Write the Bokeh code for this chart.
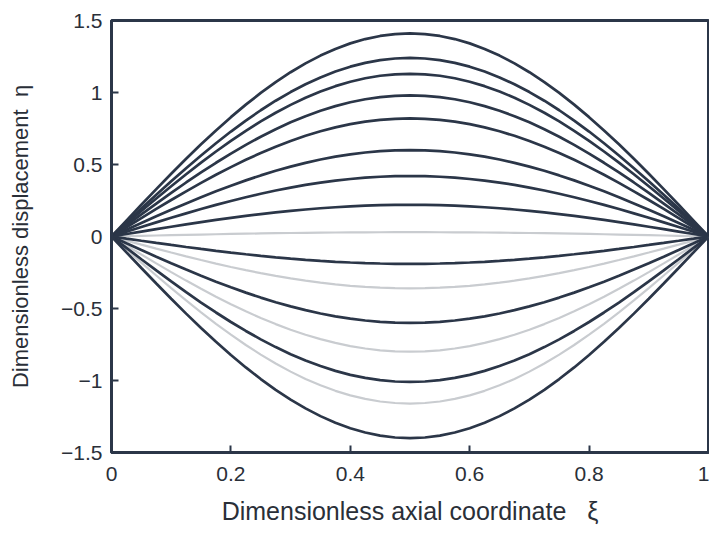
from bokeh.plotting import figure
from bokeh.models import FixedTicker, Range1d
from bokeh.embed import file_html
from bokeh.resources import INLINE

# Axial coordinate samples and normalised mode-shape
XI = [0.000, 0.025, 0.050, 0.075, 0.100, 0.125, 0.150, 0.175, 0.200, 0.225,
      0.250, 0.275, 0.300, 0.325, 0.350, 0.375, 0.400, 0.425, 0.450, 0.475,
      0.500, 0.525, 0.550, 0.575, 0.600, 0.625, 0.650, 0.675, 0.700, 0.725,
      0.750, 0.775, 0.800, 0.825, 0.850, 0.875, 0.900, 0.925, 0.950, 0.975, 1.000]
SHAPE = [0.0000, 0.0785, 0.1564, 0.2334, 0.3090, 0.3827, 0.4540, 0.5225, 0.5878, 0.6494,
         0.7071, 0.7604, 0.8090, 0.8526, 0.8910, 0.9239, 0.9511, 0.9724, 0.9877, 0.9969,
         1.0000, 0.9969, 0.9877, 0.9724, 0.9511, 0.9239, 0.8910, 0.8526, 0.8090, 0.7604,
         0.7071, 0.6494, 0.5878, 0.5225, 0.4540, 0.3827, 0.3090, 0.2334, 0.1564, 0.0785, 0.0000]

# Mid-span amplitudes of each curve
DARK_AMPS = [1.41, 1.24, 1.13, 0.98, 0.82, 0.60, 0.42, 0.22, -0.19, -0.60, -1.01, -1.40]
GRAY_AMPS = [0.03, -0.36, -0.80, -1.16]

X_TICKS = [0, 0.2, 0.4, 0.6, 0.8, 1]
X_LABELS = ["0", "0.2", "0.4", "0.6", "0.8", "1"]
Y_TICKS = [-1.5, -1, -0.5, 0, 0.5, 1, 1.5]
Y_LABELS = ["\u22121.5", "\u22121", "\u22120.5", "0", "0.5", "1", "1.5"]

DARK = "#2b3648"
GRAY = "#c9ccd0"
TEXT = "#2a2f38"
FONT = "Liberation Sans"

p = figure(width=709, height=528, output_backend="svg", toolbar_location=None,
           x_range=Range1d(0, 1), y_range=Range1d(-1.5, 1.5),
           min_border_left=111, min_border_right=1, min_border_top=20, min_border_bottom=76)

for a in GRAY_AMPS:
    p.line(XI, [a * s for s in SHAPE], line_color=GRAY, line_width=2.2)
for a in DARK_AMPS:
    p.line(XI, [a * s for s in SHAPE], line_color=DARK, line_width=2.7)

p.xgrid.visible = False
p.ygrid.visible = False
p.background_fill_color = "white"
p.border_fill_color = "white"
p.outline_line_color = DARK
p.outline_line_width = 3
p.outline_line_alpha = 1

p.xaxis.ticker = FixedTicker(ticks=X_TICKS)
p.xaxis.major_label_overrides = {t: l for t, l in zip(X_TICKS, X_LABELS)}
p.yaxis.ticker = FixedTicker(ticks=Y_TICKS)
p.yaxis.major_label_overrides = {t: l for t, l in zip(Y_TICKS, Y_LABELS)}

p.xaxis.axis_label = "Dimensionless axial coordinate\u00a0\u00a0\u00a0\u03be"
p.yaxis.axis_label = "Dimensionless displacement\u00a0\u00a0\u03b7"

for ax in (p.xaxis, p.yaxis):
    ax.axis_line_color = DARK
    ax.axis_line_width = 3
    ax.major_tick_line_color = DARK
    ax.major_tick_line_width = 2
    ax.major_tick_in = 7
    ax.major_tick_out = 0
    ax.minor_tick_line_color = None
    ax.major_label_text_font = FONT
    ax.major_label_text_font_size = "21px"
    ax.major_label_text_color = TEXT
    ax.axis_label_text_font = FONT
    ax.axis_label_text_font_style = "normal"
    ax.axis_label_text_color = TEXT

p.xaxis.axis_label_text_font_size = "25px"
p.yaxis.axis_label_text_font_size = "22px"
p.xaxis.major_label_standoff = 14
p.yaxis.major_label_standoff = 9
p.xaxis.axis_label_standoff = 13
p.yaxis.axis_label_standoff = 25

open("out.html", "w").write(file_html(p, INLINE))
